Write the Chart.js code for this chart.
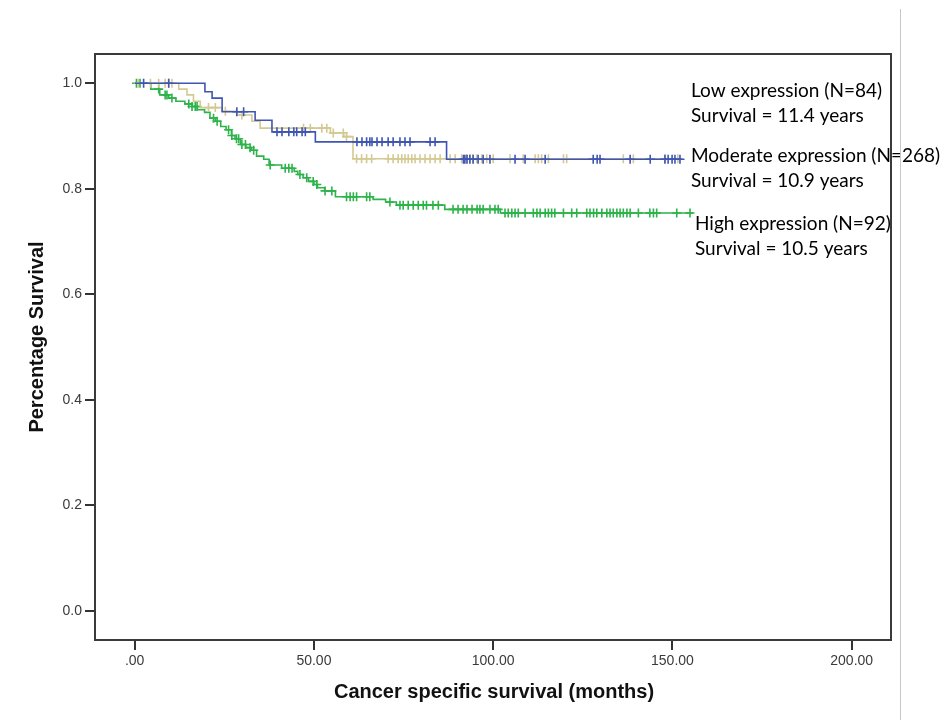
<!DOCTYPE html>
<html>
<head>
<meta charset="utf-8">
<script src="https://cdn.jsdelivr.net/npm/chart.js@4.4.1/dist/chart.umd.min.js"></script>
<style>
html, body { margin: 0; padding: 0; background: #fff; }
#wrap { position: relative; width: 949px; height: 720px; }
#edge { position: absolute; left: 900px; top: 9px; width: 0; height: 711px; border-left: 1px solid #c8c8c8; }
</style>
</head>
<body>
<div id="wrap"><canvas id="km" width="949" height="720"></canvas><div id="edge"></div></div>
<script>
// group labels written next to the curves
let groupNames = ["Low expression (N=84)", "Moderate expression (N=268)", "High expression (N=92)"];
let survivalNotes = ["Survival = 11.4 years", "Survival = 10.9 years", "Survival = 10.5 years"];

// step curves: time of each drop (months) and survival after it
let lowTimes = [0, 19.6, 21.6, 24.4, 33.6, 38.3, 50.4, 87.0, 152.6];
let lowSurv  = [1.0, 0.984, 0.972, 0.946, 0.930, 0.908, 0.889, 0.856, 0.856];
let lowCensored = [2.5, 9.5, 28.5, 30.4, 39.7, 41.1, 43.0, 44.4, 45.2, 46.7, 47.6, 62.0, 63.4, 64.7, 65.6, 66.2, 67.6, 69.0, 70.7, 72.1, 74.0, 75.4, 76.8, 82.4, 83.8,
  91.7, 92.1, 92.7, 93.5, 94.4, 95.8, 97.2, 99.1, 106.1, 108.9, 114.5, 127.9, 129.0, 129.8, 138.2, 143.8, 147.9, 148.8, 149.9, 150.7, 152.1];

let modTimes = [0, 12.3, 14.6, 16.4, 18.3, 24.4, 28.5, 32.7, 35.0, 54.6, 58.3, 60.9, 152.0];
let modSurv  = [1.0, 0.989, 0.978, 0.966, 0.954, 0.947, 0.940, 0.928, 0.915, 0.906, 0.899, 0.857, 0.857];
let modCensored = [1.0, 4.4, 6.7, 8.5, 9.5, 10.4, 20.6, 22.5, 25.3, 29.9, 47.1, 49.0, 52.2, 53.6, 55.4, 58.2, 59.1,
  61.9, 63.3, 64.7, 66.1, 70.7, 72.1, 73.5, 74.5, 75.4, 76.3, 77.3, 78.2, 79.6, 81.0, 82.4, 83.8, 85.2, 88.0, 89.4, 91.2, 92.6, 93.5, 94.4, 95.4, 96.8, 98.2, 100.0,
  104.7, 108.4, 111.7, 112.6, 113.5, 115.4, 119.6, 120.5, 136.3, 139.1, 148.0, 151.5];

let highTimes = [0, 4.5, 7.0, 9.5, 11.5, 14.0, 16.0, 17.5, 19.5, 21.0, 22.5, 24.0, 25.5, 27.0, 28.0, 29.5, 31.0, 32.5, 34.0, 36.0, 37.5, 41.0, 44.5, 45.5, 47.0, 48.5, 50.0, 51.0, 53.0, 56.0, 66.5, 70.0, 73.0, 86.5, 102.0, 155.7];
let highSurv  = [1.0, 0.989, 0.978, 0.972, 0.966, 0.961, 0.956, 0.950, 0.945, 0.934, 0.928, 0.918, 0.912, 0.901, 0.895, 0.884, 0.878, 0.873, 0.862, 0.856, 0.845, 0.839, 0.833, 0.827, 0.821, 0.814, 0.808, 0.802, 0.796, 0.785, 0.780, 0.775, 0.769, 0.761, 0.754, 0.754];
let highCensored = [0.5, 1.5, 6.7, 8.5, 9.0, 10.4, 15.1, 16.0, 16.9, 17.4, 22.0, 23.0, 26.2, 27.1, 28.4, 29.0, 29.9, 30.9, 32.2, 33.2, 37.8, 42.0, 43.0, 43.9, 46.1, 48.0, 49.8, 50.8, 53.1, 55.0,
  59.1, 60.1, 61.0, 61.9, 64.7, 65.6, 71.2, 74.0, 74.9, 76.3, 77.7, 79.1, 80.5, 81.4, 83.2, 84.7, 88.8, 90.2, 91.6, 92.7, 94.1, 95.5, 96.3, 97.2, 99.1, 100.5, 101.4,
  103.3, 104.2, 105.2, 106.1, 107.0, 108.9, 111.2, 112.2, 113.1, 114.5, 115.4, 116.3, 117.2, 119.6, 121.9, 123.3, 126.1, 127.0, 128.0, 128.9, 130.3, 131.7, 132.6, 133.5,
  134.5, 135.4, 136.3, 137.3, 138.2, 140.5, 143.7, 144.7, 145.6, 151.2, 154.9];

let xTicks = [0, 50, 100, 150, 200];
let yTicks = [0, 0.2, 0.4, 0.6, 0.8, 1.0];

let blue = "#3f55b3", tan = "#d4c993", green = "#2db34a";

function curve(times, surv) {
  return times.map((t, i) => ({ x: t, y: surv[i] }));
}
// a censored case sits on the curve at its time
function marks(times, surv, cens) {
  return cens.map(t => {
    let s = surv[0];
    for (let i = 0; i < times.length; i++) if (times[i] <= t) s = surv[i];
    return { x: t, y: s };
  });
}

function lineSet(data, color) {
  return { type: "line", data: data, borderColor: color, borderWidth: 1.6, stepped: true, pointRadius: 0, fill: false };
}
function tickSet(data, color) {
  return { type: "scatter", data: data, borderColor: color, backgroundColor: color, pointStyle: "cross", pointRadius: 4.5, borderWidth: 1.6 };
}

const frame = {
  id: "frame",
  afterDraw(chart) {
    let ctx = chart.ctx, a = chart.chartArea;
    ctx.save();
    ctx.strokeStyle = "#3a3a3a";
    ctx.lineWidth = 2;
    ctx.strokeRect(a.left, a.top, a.right - a.left, a.bottom - a.top);

    ctx.fillStyle = "#111";
    ctx.font = "bold 20px 'Liberation Sans', Arial, sans-serif";
    ctx.textAlign = "center";
    ctx.textBaseline = "middle";
    ctx.fillText("Cancer specific survival (months)", 494, 692);
    ctx.translate(37, 337);
    ctx.rotate(-Math.PI / 2);
    ctx.fillText("Percentage Survival", 0, 0);
    ctx.restore();

    ctx.save();
    ctx.fillStyle = "#000";
    ctx.font = "19px Lato, sans-serif";
    ctx.textAlign = "left";
    ctx.textBaseline = "alphabetic";
    let pos = [[691, 96.7, 122], [691, 161.7, 186.7], [695, 230, 255]];
    groupNames.forEach((g, i) => {
      ctx.fillText(g, pos[i][0], pos[i][1]);
      ctx.fillText(survivalNotes[i], pos[i][0], pos[i][2]);
    });
    ctx.restore();
  }
};

new Chart(document.getElementById("km"), {
  data: {
    datasets: [
      tickSet(marks(lowTimes, lowSurv, lowCensored), blue),
      lineSet(curve(lowTimes, lowSurv), blue),
      tickSet(marks(modTimes, modSurv, modCensored), tan),
      lineSet(curve(modTimes, modSurv), tan),
      tickSet(marks(highTimes, highSurv, highCensored), green),
      lineSet(curve(highTimes, highSurv), green)
    ]
  },
  options: {
    responsive: false,
    animation: false,
    layout: { padding: { top: 54, right: 58, left: 0, bottom: 0 } },
    plugins: { legend: { display: false }, tooltip: { enabled: false } },
    scales: {
      x: {
        type: "linear",
        min: -11.06,
        max: 210.96,
        afterBuildTicks: s => { s.ticks = xTicks.map(v => ({ value: v })); },
        afterFit: s => { s.height = 80; },
        grid: { drawOnChartArea: false, drawTicks: true, tickLength: 10, color: "#333", lineWidth: 2 },
        border: { display: false },
        ticks: {
          padding: 3,
          color: "#3a3a3a",
          font: { size: 14, family: "'Liberation Sans', Arial, sans-serif" },
          maxRotation: 0,
          callback: v => v === 0 ? ".00" : v.toFixed(2)
        }
      },
      y: {
        type: "linear",
        min: -0.0556,
        max: 1.0556,
        afterBuildTicks: s => { s.ticks = yTicks.map(v => ({ value: v })); },
        afterFit: s => { s.width = 95; },
        grid: { drawOnChartArea: false, drawTicks: true, tickLength: 10, color: "#333", lineWidth: 2 },
        border: { display: false },
        ticks: {
          padding: 3,
          color: "#3a3a3a",
          font: { size: 14, family: "'Liberation Sans', Arial, sans-serif" },
          callback: v => v.toFixed(1)
        }
      }
    }
  },
  plugins: [frame]
});
</script>
</body>
</html>
